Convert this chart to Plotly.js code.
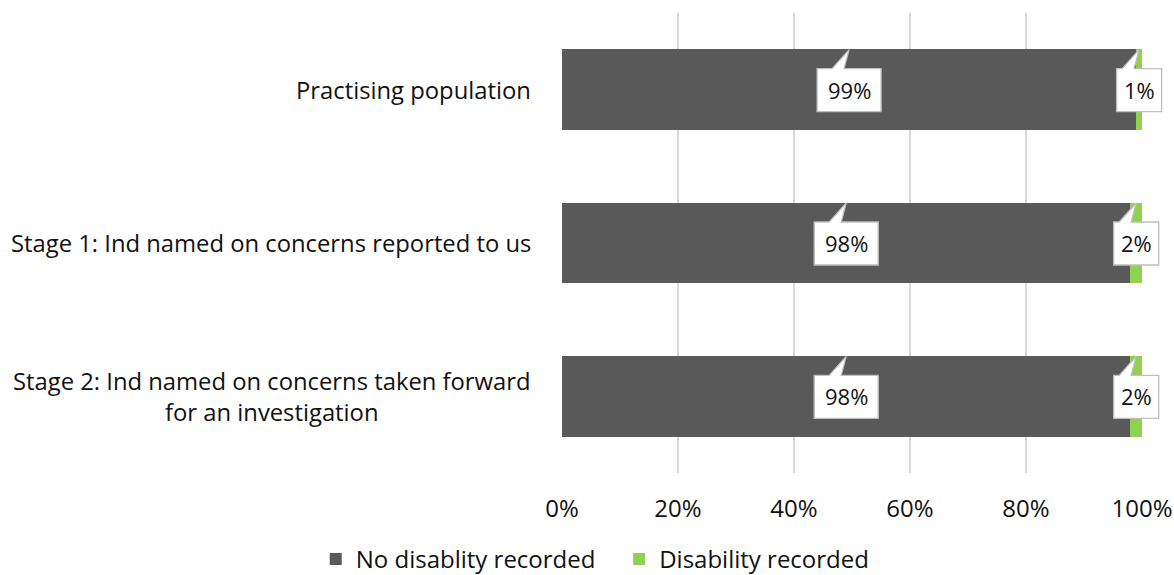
<!DOCTYPE html>
<html>
<head>
<meta charset="utf-8">
<script src="https://cdn.plot.ly/plotly-3.0.1.min.js"></script>
<style>html,body{margin:0;padding:0;background:#fff;}#chart{width:1174px;height:575px;}</style>
</head>
<body>
<div id="chart"></div>
<script>
var categories = [
  "Practising population",
  "Stage 1: Ind named on concerns reported to us",
  "Stage 2: Ind named on concerns taken forward<br>for an investigation"
];
var seriesNames = ["No disablity recorded", "Disability recorded"];
var noDisability = [99, 98, 98];
var disability = [1, 2, 2];
var xTickVals = [0, 20, 40, 60, 80, 100];
var xTickText = ["0%", "20%", "40%", "60%", "80%", "100%"];

var FONT = "Open Sans, sans-serif";
var TXT = "#111111";
var colors = ["#595959", "#92d050"];
var yIdx = categories.map(function (c, i) { return i; });
var PAD = "\u00a0\u00a0\u00a0";

var traces = [
  {type: "bar", orientation: "h", name: seriesNames[0] + PAD, y: yIdx, x: noDisability,
   marker: {color: colors[0]}, hoverinfo: "x+name"},
  {type: "bar", orientation: "h", name: seriesNames[1], y: yIdx, x: disability,
   marker: {color: colors[1]}, hoverinfo: "x+name"}
];

var annotations = [];
var shapes = [];
var nCat = categories.length;

// category labels (centered multi-line, right edge aligned)
categories.forEach(function (c, i) {
  annotations.push({xref: "paper", yref: "y", x: 0, y: i, xanchor: "right", yanchor: "middle",
    xshift: -29, text: c, showarrow: false, align: "center",
    font: {family: FONT, size: 23.8, color: TXT}});
});

function callout(xVal, i, label) {
  var w = 19 * label.length + 7;
  var half = w / 2;
  var xa = xVal / 100;                 // x axis range 0..100 -> domain
  var ya = (nCat - 0.5 - i) / nCat;    // reversed category axis -> domain
  var top = 21, bot = -22, tip = 40;
  var path = "M " + (-half) + " " + top + " L -17 " + top + " L 0 " + tip +
             " L -5 " + top + " L " + half + " " + top + " L " + half + " " + bot +
             " L " + (-half) + " " + bot + " Z";
  shapes.push({type: "path", xref: "x domain", yref: "y domain",
    xsizemode: "pixel", ysizemode: "pixel", xanchor: xa, yanchor: ya,
    path: path, fillcolor: "#ffffff", line: {color: "#bfbfbf", width: 1.3}, layer: "above"});
  annotations.push({xref: "x", yref: "y", x: xVal, y: i, text: label, showarrow: false,
    xanchor: "center", yanchor: "middle",
    font: {family: FONT, size: 22, color: TXT}});
}

categories.forEach(function (c, i) {
  callout(noDisability[i] / 2, i, noDisability[i] + "%");
  callout(noDisability[i] + disability[i] / 2, i, disability[i] + "%");
});

var layout = {
  width: 1174, height: 575,
  margin: {l: 562, r: 32, t: 13, b: 102},
  barmode: "stack",
  bargap: 0.473,
  paper_bgcolor: "#ffffff",
  plot_bgcolor: "#ffffff",
  font: {family: FONT, size: 24, color: TXT},
  xaxis: {range: [0, 100], tickvals: xTickVals, ticktext: xTickText,
    showgrid: true, gridcolor: "#d9d9d9", gridwidth: 1.5, zeroline: false,
    showline: false, ticks: "", ticklabelstandoff: 19,
    tickfont: {family: FONT, size: 24, color: TXT}, fixedrange: true},
  yaxis: {range: [nCat - 0.5, -0.5], showticklabels: false, showgrid: false,
    zeroline: false, showline: false, ticks: "", fixedrange: true},
  showlegend: true,
  legend: {orientation: "h", xref: "container", yref: "container",
    x: 0.507, xanchor: "center", y: 0.027, yanchor: "middle",
    font: {family: FONT, size: 24, color: TXT}, traceorder: "normal"},
  annotations: annotations,
  shapes: shapes
};

Plotly.newPlot("chart", traces, layout, {displayModeBar: false, staticPlot: true});
</script>
</body>
</html>
